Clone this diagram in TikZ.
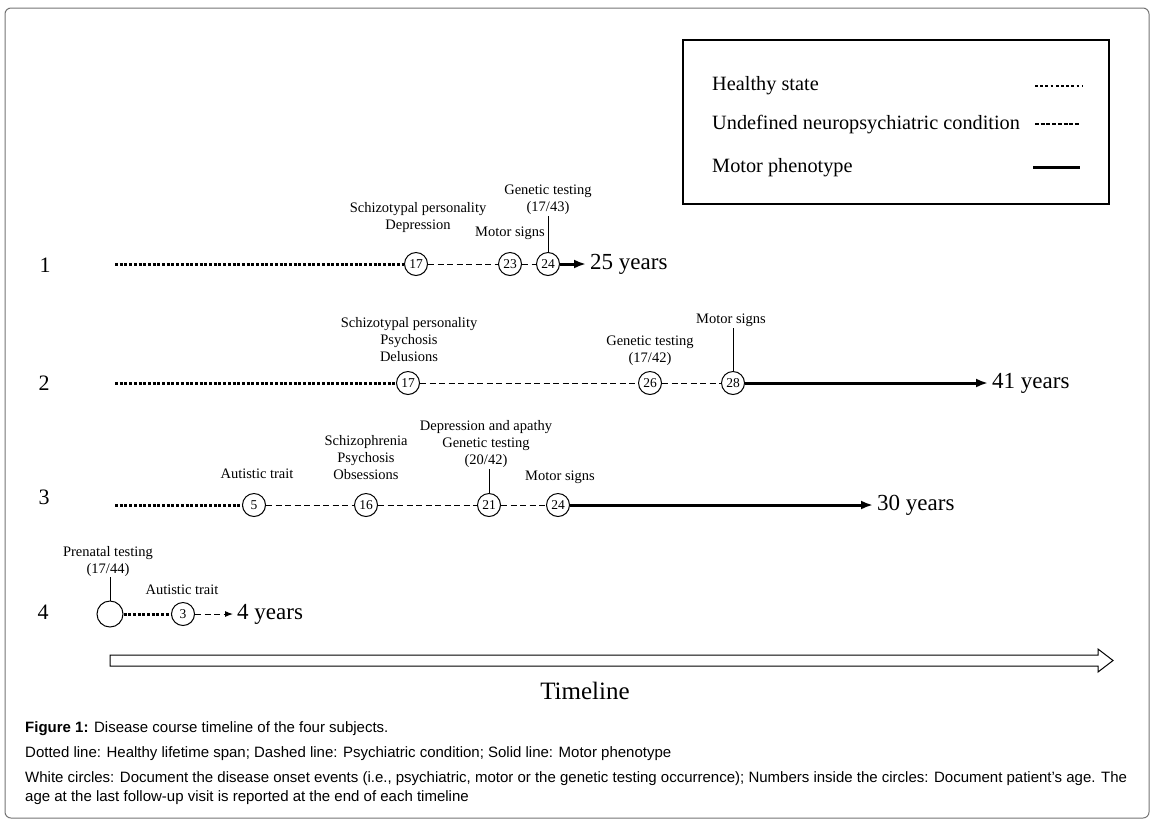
\documentclass[tikz,border=0pt]{standalone}
\usepackage{fontspec}
\setmainfont{Liberation Serif}
\setsansfont{Liberation Sans}
\usetikzlibrary{arrows.meta,positioning}
\tikzset{%
  healthy/.style = {line width=3pt, dash pattern=on 3pt off 1.7pt},
  psych/.style   = {line width=1pt, dash pattern=on 6pt off 3.5pt},
  motor/.style   = {line width=3pt},
  tip/.style     = {-{Latex[length=12pt,width=9pt]}},
  age/.style     = {draw, circle, line width=1pt, inner sep=0pt, minimum size=23pt,
                    font=\fontsize{13.5}{13.5}\selectfont},
  ev/.style      = {align=center, inner sep=1pt, font=\fontsize{14.5}{17}\selectfont},
  yr/.style      = {anchor=west, inner sep=4pt, font=\fontsize{23}{23}\selectfont},
  row/.style     = {inner sep=0pt, font=\fontsize{22}{22}\selectfont},
  lg/.style      = {anchor=west, inner sep=0pt, font=\fontsize{20.3}{20}\selectfont},
  captxt/.style  = {anchor=base west, inner sep=0pt, font=\sffamily\fontsize{15}{16}\selectfont}
}
\begin{document}
\begin{tikzpicture}[x=1pt,y=-1pt]
  \useasboundingbox (0,0) rectangle (1155,823);
  \draw[black!55, line width=1pt, rounded corners=6pt] (5,8) rectangle (1149,818);

  % legend
  \draw[line width=1.5pt] (683,40) rectangle (1109,204);
  \node[lg] (lg-healthy) at (712,86) {Healthy state};
  \node[lg] (lg-psych) at (712,125) {Undefined neuropsychiatric condition};
  \node[lg] (lg-motor) at (712,168) {Motor phenotype};
  \coordinate (lh1) at (1035,86);  \coordinate (lh2) at (1082,86);
  \coordinate (lp1) at (1035,124); \coordinate (lp2) at (1080,124);
  \coordinate (lm1) at (1033,167); \coordinate (lm2) at (1080,167);
  \draw[line width=2.8pt, dash pattern=on 2.8pt off 2.4pt] (lh1) -- (lh2);
  \draw[line width=1.2pt, dash pattern=on 4pt off 1.7pt] (lp1) -- (lp2);
  \draw[motor] (lm1) -- (lm2);

  % subject 1
  \node[row] (row-1) at (45,265) {1};
  \coordinate (s1) at (115,264);
  \node[age] (c1a) at (416,264) {17};
  \node[age] (c1b) at (510,264) {23};
  \node[age] (c1c) at (548,264) {24};
  \node[yr] (y1) at (586,264) {25 years};
  \node[ev] (e1a) at (418,218) {Schizotypal personality\\Depression};
  \node[ev] (e1b) at (510,233) {Motor signs};
  \node[ev] (e1c) at (548,200) {Genetic testing\\(17/43)};
  \draw[healthy] (s1) -- (c1a);
  \draw[psych] (c1a) -- (c1b);
  \draw[psych] (c1b) -- (c1c);
  \draw[motor,tip] (c1c) -- (y1);
  \draw[line width=1pt] (c1c.north) -- (c1c.north |- e1c.south);

  % subject 2
  \node[row] (row-2) at (44,383) {2};
  \coordinate (s2) at (115,383);
  \node[age] (c2a) at (408,383) {17};
  \node[age] (c2b) at (650,383) {26};
  \node[age] (c2c) at (733,383) {28};
  \node[yr] (y2) at (988,383) {41 years};
  \node[ev] (e2a) at (409,340) {Schizotypal personality\\Psychosis\\Delusions};
  \node[ev] (e2b) at (650,351) {Genetic testing\\(17/42)};
  \node[ev] (e2c) at (731,320) {Motor signs};
  \draw[healthy] (s2) -- (c2a);
  \draw[psych] (c2a) -- (c2b);
  \draw[psych] (c2b) -- (c2c);
  \draw[motor,tip] (c2c) -- (y2);
  \draw[line width=1pt] (c2c.north) -- (c2c.north |- e2c.south);

  % subject 3
  \node[row] (row-3) at (44,497) {3};
  \coordinate (s3) at (115,505);
  \node[age] (c3a) at (254,505) {5};
  \node[age] (c3b) at (366,505) {16};
  \node[age] (c3c) at (489,505) {21};
  \node[age] (c3d) at (558,505) {24};
  \node[yr] (y3) at (873,505) {30 years};
  \node[ev] (e3a) at (257,474) {Autistic trait};
  \node[ev] (e3b) at (366,458) {Schizophrenia\\Psychosis\\Obsessions};
  \node[ev] (e3c) at (486,444) {Depression and apathy\\Genetic testing\\(20/42)};
  \node[ev] (e3d) at (560,477) {Motor signs};
  \draw[healthy] (s3) -- (c3a);
  \draw[psych] (c3a) -- (c3b);
  \draw[psych] (c3b) -- (c3c);
  \draw[psych] (c3c) -- (c3d);
  \draw[motor,tip] (c3d) -- (y3);
  \draw[line width=1pt] (c3c.north) -- (c3c.north |- e3c.south);

  % subject 4
  \node[row] (row-4) at (43,612) {4};
  \node[age, minimum size=26pt] (c4a) at (110,614) {};
  \node[age] (c4b) at (183,614) {3};
  \node[yr] (y4) at (233,614) {4 years};
  \node[ev] (e4a) at (108,561) {Prenatal testing\\(17/44)};
  \node[ev] (e4b) at (182,590) {Autistic trait};
  \draw[healthy] (c4a) -- (c4b);
  \draw[psych,-{Latex[length=8pt,width=6pt]}] (c4b) -- (y4);
  \draw[line width=1pt] (c4a.north) -- (c4a.north |- e4a.south);

  % timeline
  \draw[line width=1pt] (110,655) -- (1098,655) -- (1098,649) -- (1113,660.5)
    -- (1098,672) -- (1098,666) -- (110,666) -- cycle;
  \node[font=\fontsize{25}{25}\selectfont] (timeline) at (585,691) {Timeline};

  % caption
  \node[captxt] (cap-1) at (25,732) {\textbf{Figure 1:} Disease course timeline of the four subjects.};
  \node[captxt] (cap-2) at (25,757) {Dotted line: Healthy lifetime span; Dashed line: Psychiatric condition; Solid line: Motor phenotype};
  \node[captxt] (cap-3) at (25,782) {White circles: Document the disease onset events (i.e., psychiatric, motor or the genetic testing occurrence); Numbers inside the circles: Document patient’s age. The};
  \node[captxt] (cap-4) at (25,801) {age at the last follow-up visit is reported at the end of each timeline};
\end{tikzpicture}
\end{document}
